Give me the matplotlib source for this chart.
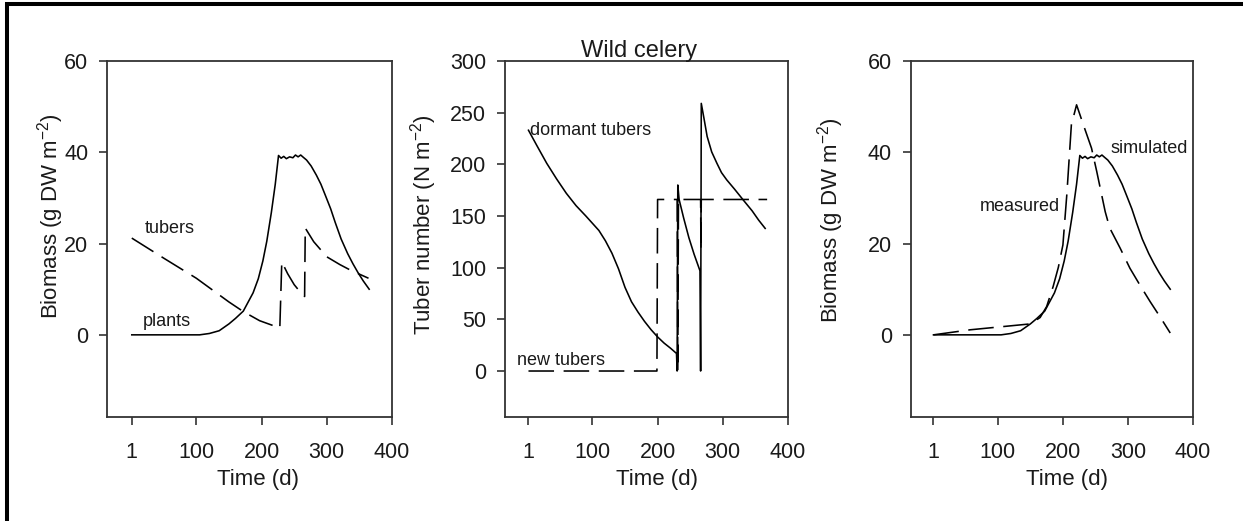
import matplotlib
matplotlib.use("Agg")
import matplotlib.pyplot as plt
from matplotlib.lines import Line2D

plt.rcParams['font.family'] = ['Liberation Sans', 'DejaVu Sans']
plt.rcParams['mathtext.fontset'] = 'custom'
plt.rcParams['mathtext.rm'] = 'Liberation Sans'
plt.rcParams['mathtext.it'] = 'Liberation Sans:italic'

# simulated plant biomass (panels 1 and 3)
plant_day = [1, 105, 120, 135, 150, 160, 172, 187, 195, 202, 208, 215, 221, 226,
             230, 234, 238, 243, 248, 252, 256, 260, 264, 269, 276, 284, 291,
             298, 306, 313, 322, 332, 340, 348, 356, 365]
plant_bio = [0, 0, 0.3, 0.9, 2.4, 3.6, 5.2, 9.2, 12.3, 16.2, 20.5, 26.8, 33.0, 39.3,
             38.7, 39.1, 38.6, 39.0, 38.8, 39.4, 39.0, 39.4, 38.9, 38.3, 37.0, 35.0, 33.0,
             30.5, 27.6, 24.6, 21.0, 17.8, 15.6, 13.6, 11.8, 10.0]

# tuber biomass (panel 1)
tuber_day = [1, 50, 100, 150, 172, 197, 228, 231, 240, 250, 258, 266, 267, 280, 300, 320, 336, 364]
tuber_bio = [21.2, 16.8, 12.4, 7.2, 5.1, 3.1, 1.5, 16.0, 13.4, 11.0, 9.6, 8.4, 23.4, 20.4, 17.1, 15.4, 14.2, 12.4]

# dormant tubers number (panel 2)
dorm_day = [2, 15, 30, 45, 60, 75, 90, 100, 110, 120, 130, 140, 150, 160, 170, 180,
            190, 200, 210, 220, 229,
            230, 231, 233, 240, 248, 256, 265, 266, 267, 271, 276, 283, 291, 298, 306,
            318, 332, 345, 355, 365]
dorm_num = [233, 218, 201, 186, 172, 160, 150, 143, 136, 126, 114, 99, 81, 67, 57, 48,
            40, 33, 27, 22, 17,
            0, 180, 166, 148, 129, 113, 97, 0, 259, 245, 227, 212, 201, 192, 185,
            176, 165, 155, 146, 138]

# new tubers number (panel 2)
new_day = [2, 199, 200, 230, 231, 232, 266, 266.5, 267, 368]
new_num = [0, 0, 166, 166, 0, 166, 166, 117, 166, 166]

# measured biomass (panel 3)
meas_day = [1, 57, 150, 165, 175, 185, 193, 200, 206, 213, 221, 232, 244, 252, 265,
            272, 288, 303, 318, 334, 350, 365]
meas_bio = [0, 1.1, 2.4, 3.8, 6.2, 10.6, 14.8, 19.7, 30.7, 46.0, 50.4, 45.8, 40.9, 35.8, 27.0,
            23.4, 19.0, 14.6, 11.0, 7.3, 3.8, 0.4]

xticks = [1, 100, 200, 300, 400]
bio_ticks = [0, 20, 40, 60]
num_ticks = [0, 50, 100, 150, 200, 250, 300]

W, H = 1243, 521
fig = plt.figure(figsize=(W / 100, H / 100), dpi=100)

txt = '#1a1a1a'
spine = '#333333'
dash = (0, (16, 6))
lw = 1.15


def make_axes(left, right, xmin, ylim, yticks):
    ax = fig.add_axes([left / W, (H - 417) / H, (right - left) / W, 356 / H])
    ax.set_xlim(xmin, 400)
    ax.set_ylim(*ylim)
    ax.set_xticks(xticks)
    ax.set_yticks(yticks)
    for s in ax.spines.values():
        s.set_color(spine)
        s.set_linewidth(1.3)
    ax.tick_params(axis='x', length=6, width=1.2, color=spine, pad=12, labelsize=15.5, labelcolor=txt)
    ax.tick_params(axis='y', length=5.5, width=1.2, color=spine, pad=8, labelsize=15.5, labelcolor=txt)
    return ax


# panel 1
ax1 = make_axes(107, 392, -37, (-18, 60), bio_ticks)
ax1.plot(plant_day, plant_bio, color='black', lw=lw)
ax1.plot(tuber_day, tuber_bio, color='black', lw=lw, linestyle=dash)
ax1.text(21, 23.4, 'tubers', fontsize=13, color=txt, va='center')
ax1.text(18, 2.9, 'plants', fontsize=13, color=txt, va='center')
ax1.set_xlabel('Time (d)', fontsize=16, color=txt)
ax1.set_ylabel('Biomass (g DW m$^{-2}$)', fontsize=16, color=txt)
ax1.xaxis.set_label_coords(0.531, -0.147)
ax1.yaxis.set_label_coords(-0.144, 0.563)

# panel 2
ax2 = make_axes(505, 788, -34, (-44.5, 300), num_ticks)
ax2.plot(dorm_day, dorm_num, color='black', lw=lw)
ax2.plot(new_day, new_num, color='black', lw=lw, linestyle=dash)
ax2.text(4.6, 233, 'dormant tubers', fontsize=13, color=txt, va='center')
ax2.text(-16, 10.6, 'new tubers', fontsize=13, color=txt, va='center')
ax2.text(0.472, 1.011, 'Wild celery', transform=ax2.transAxes, fontsize=17,
         color=txt, ha='center', va='baseline')
ax2.set_xlabel('Time (d)', fontsize=16, color=txt)
ax2.set_ylabel('Tuber number (N m$^{-2}$)', fontsize=16, color=txt)
ax2.xaxis.set_label_coords(0.537, -0.147)
ax2.yaxis.set_label_coords(-0.233, 0.539)

# panel 3
ax3 = make_axes(910.7, 1193, -34, (-18, 60), bio_ticks)
ax3.plot(plant_day, plant_bio, color='black', lw=lw)
ax3.plot(meas_day, meas_bio, color='black', lw=lw, linestyle=dash)
ax3.text(273, 40.9, 'simulated', fontsize=13, color=txt, va='center')
ax3.text(72, 28.1, 'measured', fontsize=13, color=txt, va='center')
ax3.set_xlabel('Time (d)', fontsize=16, color=txt)
ax3.set_ylabel('Biomass (g DW m$^{-2}$)', fontsize=16, color=txt)
ax3.xaxis.set_label_coords(0.554, -0.147)
ax3.yaxis.set_label_coords(-0.229, 0.553)

# outer frame (top and left edges visible)
fig.add_artist(Line2D([5 / W, 1], [1 - 3.5 / H, 1 - 3.5 / H], transform=fig.transFigure,
                      color='black', lw=2.9, solid_capstyle='butt'))
fig.add_artist(Line2D([7 / W, 7 / W], [0, 1 - 1.5 / H], transform=fig.transFigure,
                      color='black', lw=2.9, solid_capstyle='butt'))

fig.savefig('out.png', dpi=100)
